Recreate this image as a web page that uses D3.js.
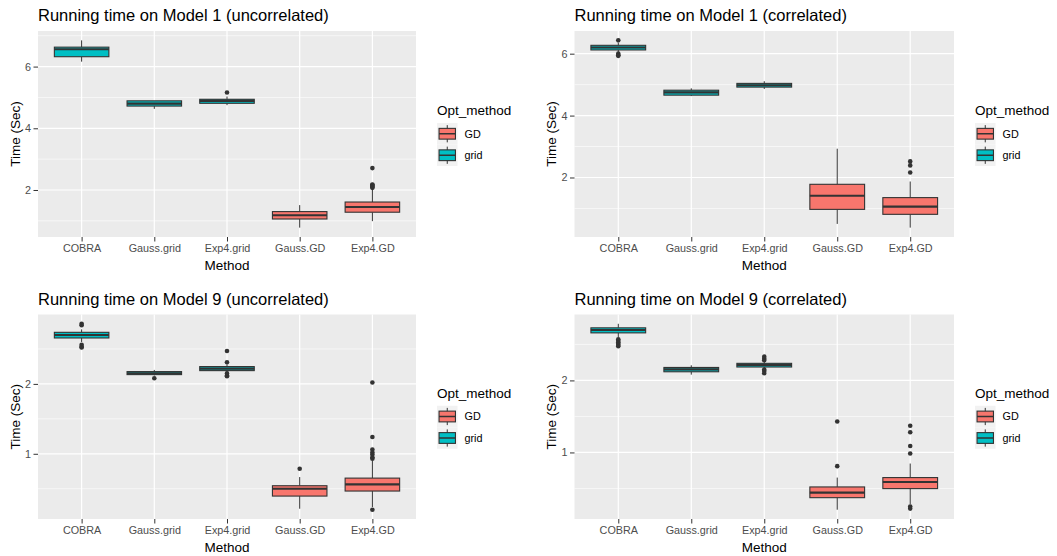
<!DOCTYPE html>
<html>
	<head>
		<meta charset="utf-8"/>
		<script src="https://d3js.org/d3.v7.min.js"></script>
		<style>
			body {
				margin: 0;
				background: #fff;
			}
			svg {
				display: block;
				font-family: 'Liberation Sans', Arial, sans-serif;
			}
			.tick text {
				fill: #4d4d4d;
				font-size: 10.8px;
			}
			.tick line {
				stroke: #333;
			}
			.domain {
				display: none;
			}
		</style>
	</head>
	<body>
		<svg id="chart" width="1057" height="556"></svg>
		<script>
			var methods = ['COBRA', 'Gauss.grid', 'Exp4.grid', 'Gauss.GD', 'Exp4.GD'];
			var optMethod = ['grid', 'grid', 'grid', 'GD', 'GD'];
			var legendLevels = ['GD', 'grid'];
			var fills = {GD: '#F8766D', grid: '#00BFC4'};

			// box stats per method: [lower whisker, q1, median, q3, upper whisker]
			var m1UncorrStats = [[6.16, 6.32, 6.56, 6.63, 6.85], [4.63, 4.72, 4.80, 4.89, 4.89], [4.75, 4.81, 4.89, 4.94, 5.03], [0.78, 1.06, 1.18, 1.30, 1.51], [0.99, 1.28, 1.45, 1.61, 2.02]];
			var m1UncorrOut = [[], [], [5.16], [], [2.71, 2.18, 2.16, 2.13, 2.10, 2.07]];
			var m1CorrStats = [[6.05, 6.12, 6.20, 6.27, 6.35], [4.63, 4.66, 4.75, 4.82, 4.88], [4.86, 4.92, 4.98, 5.04, 5.11], [0.50, 0.97, 1.41, 1.78, 2.93], [0.38, 0.81, 1.06, 1.35, 1.87]];
			var m1CorrOut = [[6.43, 6.00, 5.95, 5.93], [], [], [], [2.52, 2.39, 2.16]];
			var m9UncorrStats = [[2.60, 2.657, 2.70, 2.738, 2.78], [2.12, 2.133, 2.152, 2.176, 2.20], [2.17, 2.19, 2.219, 2.248, 2.28], [0.214, 0.395, 0.50, 0.543, 0.667], [0.238, 0.467, 0.562, 0.652, 0.905]];
			var m9UncorrOut = [[2.86, 2.84, 2.56, 2.53, 2.52], [2.08], [2.47, 2.31, 2.15, 2.12, 2.11], [0.786], [2.02, 1.24, 1.06, 1.02, 0.99, 0.95, 0.93, 0.20]];
			var m9CorrStats = [[2.60, 2.66, 2.70, 2.73, 2.786], [2.08, 2.12, 2.153, 2.18, 2.21], [2.17, 2.186, 2.214, 2.237, 2.265], [0.205, 0.372, 0.442, 0.521, 0.651], [0.28, 0.498, 0.59, 0.651, 0.846]];
			var m9CorrOut = [[2.57, 2.55, 2.53, 2.51, 2.49, 2.475], [], [2.33, 2.30, 2.28, 2.15, 2.13, 2.10], [1.43, 0.81], [1.37, 1.28, 1.09, 0.986, 0.25, 0.22]];

			var panels = [
				{title: 'Running time on Model 1 (uncorrelated)', stats: m1UncorrStats, out: m1UncorrOut, major: [2, 4, 6], minor: [1, 3, 5, 7], left: 38, top: 31, right: 416, bottom: 237},
				{title: 'Running time on Model 1 (correlated)', stats: m1CorrStats, out: m1CorrOut, major: [2, 4, 6], minor: [1, 3, 5], left: 574.5, top: 31, right: 954, bottom: 237},
				{title: 'Running time on Model 9 (uncorrelated)', stats: m9UncorrStats, out: m9UncorrOut, major: [1, 2], minor: [0.5, 1.5, 2.5], left: 38, top: 314.5, right: 416, bottom: 519},
				{title: 'Running time on Model 9 (correlated)', stats: m9CorrStats, out: m9CorrOut, major: [1, 2], minor: [0.5, 1.5, 2.5], left: 574.5, top: 314.5, right: 954, bottom: 519}
			];

			var svg = d3.select('#chart');
			var ink = '#333333';

			function drawPanel(p) {
				var g = svg.append('g');
				var all = [].concat(...p.stats, ...p.out);
				var lo = d3.min(all), hi = d3.max(all), pad = (hi - lo) * 0.05;
				var y = d3.scaleLinear().domain([lo - pad, hi + pad]).range([p.bottom, p.top]);
				var x = d3.scalePoint().domain(methods).range([p.left, p.right]).padding(0.6);
				var bw = x.step() * 0.75;

				// panel background + grid
				g.append('rect')
					.attr('x', p.left).attr('y', p.top)
					.attr('width', p.right - p.left).attr('height', p.bottom - p.top)
					.attr('fill', '#EBEBEB');
				g.selectAll('.minor').data(p.minor).enter().append('line')
					.attr('x1', p.left).attr('x2', p.right)
					.attr('y1', d => y(d)).attr('y2', d => y(d))
					.attr('stroke', '#fff').attr('stroke-width', 0.6);
				g.selectAll('.major').data(p.major).enter().append('line')
					.attr('x1', p.left).attr('x2', p.right)
					.attr('y1', d => y(d)).attr('y2', d => y(d))
					.attr('stroke', '#fff').attr('stroke-width', 1.2);
				g.selectAll('.vgrid').data(methods).enter().append('line')
					.attr('x1', d => x(d)).attr('x2', d => x(d))
					.attr('y1', p.top).attr('y2', p.bottom)
					.attr('stroke', '#fff').attr('stroke-width', 1.2);

				// boxes
				methods.forEach(function(m, i) {
					var s = p.stats[i], cx = x(m);
					var b = g.append('g');
					b.append('line').attr('x1', cx).attr('x2', cx).attr('y1', y(s[0])).attr('y2', y(s[1]))
						.attr('stroke', ink).attr('stroke-width', 1);
					b.append('line').attr('x1', cx).attr('x2', cx).attr('y1', y(s[3])).attr('y2', y(s[4]))
						.attr('stroke', ink).attr('stroke-width', 1);
					b.append('rect')
						.attr('x', cx - bw / 2).attr('y', y(s[3]))
						.attr('width', bw).attr('height', Math.max(0.5, y(s[1]) - y(s[3])))
						.attr('fill', fills[optMethod[i]])
						.attr('stroke', ink).attr('stroke-width', 1.1);
					b.append('line').attr('x1', cx - bw / 2).attr('x2', cx + bw / 2).attr('y1', y(s[2])).attr('y2', y(s[2]))
						.attr('stroke', ink).attr('stroke-width', 2.1);
					b.selectAll('circle').data(p.out[i]).enter().append('circle')
						.attr('cx', cx).attr('cy', d => y(d)).attr('r', 2.3)
						.attr('fill', ink);
				});

				// axes
				g.append('g')
					.attr('transform', `translate(${p.left},0)`)
					.call(d3.axisLeft(y).tickValues(p.major).tickFormat(d3.format('d')).tickSize(4.5).tickPadding(2.5));
				g.append('g')
					.attr('transform', `translate(0,${p.bottom})`)
					.call(d3.axisBottom(x).tickSize(4.5).tickPadding(3));

				// titles
				g.append('text').attr('x', p.left).attr('y', p.top - 10)
					.attr('font-size', '16.5px').attr('fill', '#000').text(p.title);
				g.append('text').attr('x', (p.left + p.right) / 2).attr('y', p.bottom + 33)
					.attr('text-anchor', 'middle').attr('font-size', '13.5px').text('Method');
				g.append('text')
					.attr('transform', `translate(${p.left - 23},${(p.top + p.bottom) / 2}) rotate(-90)`)
					.attr('text-anchor', 'middle').attr('dy', '0.35em').attr('font-size', '13.5px').text('Time (Sec)');

				// legend
				var lx = p.right + 21, cy = (p.top + p.bottom) / 2;
				var kw = 20.5, kh = 21.5;
				var leg = g.append('g').attr('transform', `translate(${lx},${cy - 11})`);
				leg.append('text').attr('x', 0).attr('y', -8).attr('font-size', '13.5px').text('Opt_method');
				legendLevels.forEach(function(lv, j) {
					var k = leg.append('g').attr('transform', `translate(0,${j * kh})`);
					k.append('rect').attr('width', kw).attr('height', kh).attr('fill', '#F2F2F2');
					k.append('line').attr('x1', kw / 2).attr('x2', kw / 2).attr('y1', kh * 0.1).attr('y2', kh * 0.9)
						.attr('stroke', ink).attr('stroke-width', 1);
					k.append('rect').attr('x', kw * 0.1).attr('y', kh * 0.25).attr('width', kw * 0.8).attr('height', kh * 0.5)
						.attr('fill', fills[lv]).attr('stroke', ink).attr('stroke-width', 1.1);
					k.append('line').attr('x1', kw * 0.1).attr('x2', kw * 0.9).attr('y1', kh / 2).attr('y2', kh / 2)
						.attr('stroke', ink).attr('stroke-width', 1.5);
					k.append('text').attr('x', kw + 7).attr('y', kh / 2).attr('dy', '0.35em')
						.attr('font-size', '10.8px').text(lv);
				});
			}

			panels.forEach(drawPanel);
		</script>
	</body>
</html>
